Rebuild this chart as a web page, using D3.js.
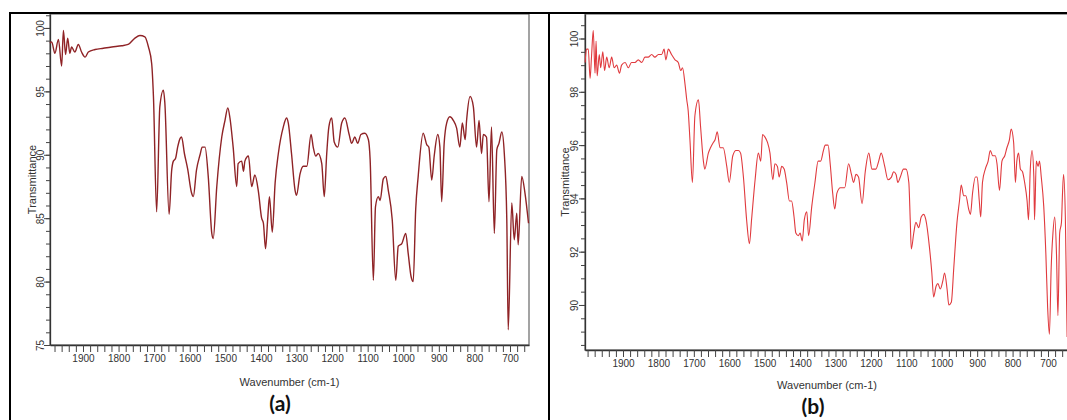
<!DOCTYPE html>
<html>
<head>
<meta charset="utf-8">
<script src="https://cdn.jsdelivr.net/npm/d3@7"></script>
<style>
  body { margin: 0; background: #fff; }
  .tick text { font-family: "Liberation Sans Narrow", "Arial Narrow", "Liberation Sans", sans-serif; font-size: 10px; fill: #333; }
  .axis-title { font-family: "Liberation Sans", Arial, sans-serif; font-size: 11px; fill: #333; }
  .panel-label { font-family: Lato, "Open Sans", sans-serif; font-weight: bold; font-size: 21px; fill: #111; }
</style>
</head>
<body>
<div id="chart"></div>
<script>
// spectrum (a) : wavenumber (cm-1) and transmittance
var wnA = [1993,1988,1979,1969,1960,1955,1949,1943,1937,1932,1923,1913,1904,1894,1885,1866,1843,1819,1791,1773,
  1754,1740,1726,1716,1707,1702,1693,1684,1674,1670,1658,1651,1646,1640,1634,1627,1623,1615,1606,1595,
  1590,1581,1571,1565,1557,1548,1538,1534,1524,1510,1501,1493,1487,1478,1468,1464,1454,1449,1445,1435,
  1426,1417,1407,1398,1393,1387,1381,1376,1368,1360,1351,1337,1328,1323,1314,1304,1300,1290,1281,1271,
  1259,1253,1246,1239,1229,1222,1215,1209,1201,1194,1184,1173,1164,1152,1145,1136,1128,1119,1108,1098,
  1093,1084,1078,1070,1065,1056,1049,1042,1031,1021,1014,1004,993,986,978,972,965,958,944,934,
  928,920,913,903,897,892,885,878,869,859,850,841,834,826,822,812,803,794,787,780,
  775,766,759,752,744,737,731,723,716,709,705,695,688,681,677,667,658,648];
var trA = [98.8,98.9,98.0,99.1,97.0,99.8,97.9,99.2,98.0,98.5,98.1,98.7,98.1,97.7,98.1,98.3,98.4,98.5,98.6,98.7,
  99.2,99.4,99.3,98.5,97.2,94.6,85.5,93.8,95.1,94.1,85.3,88.7,89.5,89.7,90.6,91.3,91.4,90.1,88.9,87.0,
  86.7,88.8,90.0,90.6,90.6,88.3,83.8,83.4,87.5,91.4,92.7,93.7,92.9,90.6,87.5,89.3,89.5,88.7,89.5,89.9,
  87.5,88.4,87.1,85.0,84.6,82.6,84.9,86.7,83.9,87.8,90.1,92.2,92.9,92.5,90.1,87.2,86.8,88.5,89.1,89.1,
  91.6,90.6,89.9,90.1,89.3,86.7,90.1,92.2,92.9,91.0,90.6,92.5,92.9,91.6,90.9,91.4,90.9,91.6,91.7,91.2,
  89.6,80.1,85.9,86.7,86.4,88.1,88.3,87.2,84.9,80.1,82.8,83.0,83.8,82.2,80.4,80.0,85.7,88.3,91.7,90.8,
  90.6,88.0,89.9,91.6,90.6,86.3,90.9,92.5,93.0,92.7,92.1,90.6,92.5,91.2,92.7,94.6,93.8,90.6,92.7,90.1,
  91.6,91.4,86.3,92.2,83.8,90.4,90.9,91.8,90.1,84.9,76.2,86.2,83.3,85.4,82.9,88.3,87.0,84.6];

// spectrum (b)
var wnB = [2007,2003,1998,1993,1989,1984,1979,1976,1973,1967,1963,1957,1952,1946,1939,1932,1925,1918,1910,1904,
  1894,1885,1876,1866,1857,1847,1838,1829,1819,1810,1800,1791,1784,1779,1772,1763,1753,1744,1737,1732,
  1725,1720,1716,1711,1704,1697,1687,1681,1673,1669,1659,1653,1645,1640,1634,1626,1617,1607,1600,1590,
  1581,1574,1568,1560,1551,1543,1537,1527,1518,1511,1506,1499,1492,1485,1477,1471,1464,1459,1452,1445,
  1438,1430,1424,1417,1412,1405,1400,1394,1388,1381,1376,1367,1358,1349,1342,1334,1329,1321,1315,1308,
  1302,1296,1286,1280,1274,1263,1255,1249,1242,1235,1225,1216,1206,1197,1186,1178,1171,1161,1152,1142,
  1136,1129,1124,1117,1108,1101,1093,1089,1086,1079,1073,1065,1058,1051,1045,1035,1028,1023,1016,1011,
  1004,997,992,985,980,973,966,957,950,945,938,932,924,919,913,905,900,894,890,885,
  877,869,863,856,849,844,837,830,822,816,809,804,797,792,788,783,778,772,766,759,
  755,750,745,740,738,733,728,724,719,712,706,701,696,691,686,681,676,672,667,662,
  659,656,651,646];
var trB = [99.1,99.6,99.6,98.5,99.3,100.3,98.7,99.9,98.6,99.4,98.9,99.5,98.8,99.3,98.9,99.3,98.9,99.0,98.7,99.0,
  99.1,98.9,99.1,99.1,99.2,99.1,99.3,99.3,99.4,99.3,99.4,99.4,99.6,99.2,99.6,99.4,99.2,99.1,98.8,98.9,
  98.3,97.7,97.3,96.2,94.6,97.1,97.7,96.7,95.4,95.1,95.7,95.9,96.1,96.2,96.5,95.9,95.9,95.2,94.6,95.6,
  95.8,95.8,95.7,94.8,93.2,92.3,93.2,94.7,95.7,95.4,96.4,96.3,96.1,95.7,94.7,95.3,95.2,94.8,95.2,95.1,
  94.6,93.9,93.9,93.3,92.7,92.6,92.7,92.4,93.2,93.5,92.6,93.7,94.6,95.4,95.4,95.8,96.0,96.0,95.3,94.2,
  93.6,94.2,94.4,94.4,94.4,95.3,94.9,94.6,94.9,94.8,93.8,95.0,95.7,95.1,95.1,95.4,95.7,95.2,94.7,94.8,
  95.0,94.9,94.6,94.8,95.1,95.1,94.6,93.2,92.1,92.7,93.1,92.9,93.3,93.4,93.2,92.2,91.2,90.3,90.7,90.8,
  90.6,90.9,91.2,90.6,90.0,90.1,91.4,93.1,93.9,94.5,94.1,94.1,93.6,93.4,94.2,94.8,94.8,93.9,93.3,94.6,
  95.1,95.4,95.8,95.6,95.6,95.3,94.3,95.4,95.6,95.9,96.2,96.6,96.1,94.6,95.4,95.7,95.1,95.0,94.6,93.9,
  93.2,95.1,95.8,94.8,93.2,95.4,95.2,95.4,94.8,93.7,91.9,89.9,88.9,91.4,92.7,93.3,91.9,89.6,92.7,93.1,
  94.2,94.9,93.3,88.8];

// tick labels
var xTickLabels = [1900,1800,1700,1600,1500,1400,1300,1200,1100,1000,900,800,700];
var yTickLabelsA = [75,80,85,90,95,100];
var yTickLabelsB = [90,92,94,96,98,100];

const svgWidth = 1067;
const svgHeight = 420;

var svg = d3.select("#chart").append("svg")
  .attr("width", svgWidth)
  .attr("height", svgHeight)
  .style("background", "#fff");

// layout of the two panels
var panels = [
  {wn: wnA, tr: trA, yLabels: yTickLabelsA, yMinorStep: 1,
   xDomain: [1992.7, 646.6], yDomain: [75, 101.1],
   left: 50, right: 529, top: 14, bottom: 345,
   color: "#8f2326", lineWidth: 1.4, yLabelOff: 6.5, titleX: 36, titleY: 386,
   tag: "(a)", tagX: 280, tagY: 411},
  {wn: wnB, tr: trB, yLabels: yTickLabelsB, yMinorStep: 0.5,
   xDomain: [2007.3, 640.7], yDomain: [88.31, 100.92],
   left: 585, right: 1069, top: 14, bottom: 350,
   color: "#e03a3e", lineWidth: 1.1, yLabelOff: 7.5, titleX: 569, titleY: 389,
   tag: "(b)", tagX: 813, tagY: 414}
];

panels.forEach(function(p) {
  var x = d3.scaleLinear().domain(p.xDomain).range([p.left, p.right]);
  var y = d3.scaleLinear().domain(p.yDomain).range([p.bottom, p.top]);
  var g = svg.append("g");

  // frame top / right
  g.append("rect")
    .attr("x", p.left).attr("y", p.top)
    .attr("width", p.right - p.left).attr("height", p.bottom - p.top)
    .attr("fill", "none").attr("stroke", "#666").attr("stroke-width", 1.2);

  // x axis, a tick every 20 cm-1, labels on the hundreds
  var xmin = Math.min(p.xDomain[0], p.xDomain[1]), xmax = Math.max(p.xDomain[0], p.xDomain[1]);
  var xMinor = d3.range(660, 2001, 20).filter(function(v) { return v >= xmin && v <= xmax; });
  var xAxis = d3.axisBottom(x)
    .tickValues(xMinor)
    .tickSize(7)
    .tickSizeOuter(0)
    .tickPadding(3)
    .tickFormat(function(d) { return xTickLabels.indexOf(d) >= 0 ? d : ""; });
  var gx = g.append("g").attr("transform", "translate(0," + p.bottom + ")").call(xAxis);
  gx.select(".domain").attr("stroke", "#333").attr("stroke-width", 1.3);
  gx.selectAll(".tick line").attr("stroke", "#444");

  // y axis minor ticks
  var yMinor = d3.range(p.yDomain[0], p.yDomain[1] + 0.001, p.yMinorStep)
    .map(function(v) { return Math.ceil(v / p.yMinorStep) * p.yMinorStep; })
    .filter(function(v) { return v <= p.yDomain[1]; });
  var gyMinor = g.append("g").attr("transform", "translate(" + p.left + ",0)")
    .call(d3.axisLeft(y).tickValues(yMinor).tickSize(4).tickSizeOuter(0).tickFormat(""));
  gyMinor.select(".domain").attr("stroke", "#333").attr("stroke-width", 1.3);
  gyMinor.selectAll(".tick line").attr("stroke", "#444");

  // y axis labelled ticks, text turned on its side
  var gy = g.append("g").attr("transform", "translate(" + p.left + ",0)")
    .call(d3.axisLeft(y).tickValues(p.yLabels).tickSize(6).tickSizeOuter(0));
  gy.select(".domain").remove();
  gy.selectAll(".tick line").attr("stroke", "#444");
  gy.selectAll(".tick text")
    .attr("x", 0).attr("dy", null)
    .attr("y", -p.yLabelOff)
    .attr("transform", "rotate(-90)")
    .attr("text-anchor", "middle");

  // axis titles
  g.append("text").attr("class", "axis-title")
    .attr("x", (p.left + p.right) / 2).attr("y", p.titleY)
    .attr("text-anchor", "middle")
    .text("Wavenumber (cm-1)");
  g.append("text").attr("class", "axis-title")
    .attr("transform", "translate(" + p.titleX + "," + (p.top + p.bottom) / 2 + ") rotate(-90)")
    .attr("text-anchor", "middle")
    .text("Transmittance");

  // the spectrum
  var pts = p.wn.map(function(w, i) { return [w, p.tr[i]]; });
  var line = d3.line()
    .x(function(d) { return x(d[0]); })
    .y(function(d) { return y(d[1]); })
    .curve(d3.curveMonotoneX);
  g.append("path")
    .datum(pts)
    .attr("d", line)
    .attr("fill", "none")
    .attr("stroke", p.color)
    .attr("stroke-width", p.lineWidth)
    .attr("stroke-linejoin", "round");

  svg.append("text").attr("class", "panel-label")
    .attr("x", p.tagX).attr("y", p.tagY)
    .attr("text-anchor", "middle")
    .text(p.tag);
});

// table borders round the two cells
var border = svg.append("g").attr("stroke", "#000").attr("stroke-width", 2);
border.append("line").attr("x1", 9).attr("x2", svgWidth).attr("y1", 13).attr("y2", 13);
border.append("line").attr("x1", 10).attr("x2", 10).attr("y1", 12).attr("y2", svgHeight);
border.append("line").attr("x1", 549).attr("x2", 549).attr("y1", 12).attr("y2", svgHeight);
</script>
</body>
</html>
